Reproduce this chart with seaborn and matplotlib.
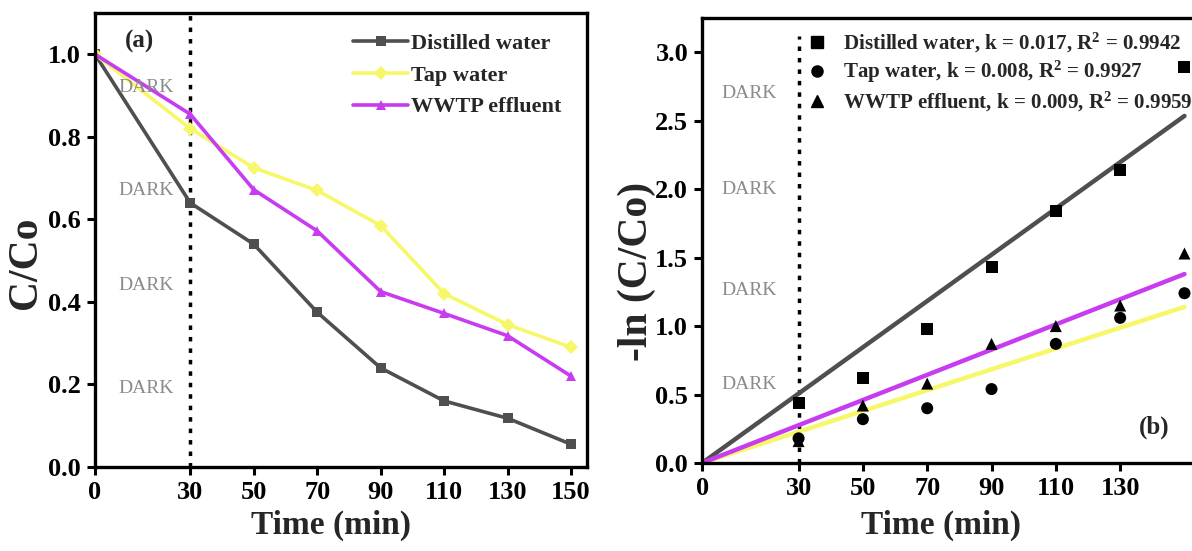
import matplotlib
matplotlib.use("Agg")
import matplotlib.pyplot as plt
from matplotlib.lines import Line2D
import seaborn as sns
import numpy as np
import pandas as pd

# ---------------- data ----------------
time_min = [0, 30, 50, 70, 90, 110, 130, 150]
series_names = ["Distilled water", "Tap water", "WWTP effluent"]
distilled_c = [1.0, 0.64, 0.54, 0.375, 0.24, 0.16, 0.118, 0.055]
tap_c = [1.0, 0.82, 0.725, 0.67, 0.585, 0.42, 0.345, 0.29]
wwtp_c = [1.0, 0.855, 0.672, 0.572, 0.425, 0.372, 0.318, 0.22]

kin_time = [30, 50, 70, 90, 110, 130, 150]
distilled_ln = [0.44, 0.62, 0.98, 1.43, 1.84, 2.14, 2.89]
tap_ln = [0.18, 0.32, 0.40, 0.54, 0.87, 1.06, 1.24]
wwtp_ln = [0.16, 0.42, 0.58, 0.87, 1.00, 1.15, 1.53]

fit_slopes = [0.0169, 0.0076, 0.0092]
fit_range = [0, 150]
k_labels = ["0.017", "0.008", "0.009"]
r2_labels = ["0.9942", "0.9927", "0.9959"]

left_xticks = [0, 30, 50, 70, 90, 110, 130, 150]
right_xticks = [0, 30, 50, 70, 90, 110, 130]
left_yticks = [0.0, 0.2, 0.4, 0.6, 0.8, 1.0]
right_yticks = [0.0, 0.5, 1.0, 1.5, 2.0, 2.5, 3.0]
dark_time = 30
dark_y_left = [0.92, 0.67, 0.44, 0.19]
dark_y_right = [2.70, 2.00, 1.26, 0.57]

# ---------------- style ----------------
sns.set_style("ticks")
plt.rcParams["font.family"] = ["Liberation Serif", "DejaVu Serif"]
plt.rcParams["font.weight"] = "bold"
plt.rcParams["mathtext.fontset"] = "custom"
plt.rcParams["mathtext.rm"] = "Liberation Serif:bold"
plt.rcParams["mathtext.bf"] = "Liberation Serif:bold"
plt.rcParams["mathtext.it"] = "Liberation Serif:bold"

colors = ["#4f4f4f", "#f7f76a", "#c83cf0"]
line_markers = ["s", "D", "^"]
scatter_markers = ["s", "o", "^"]

fig = plt.figure(figsize=(11.92, 5.51), dpi=100)
ax1 = fig.add_axes([0.0797, 0.1525, 0.4127, 0.8239])
ax2 = fig.add_axes([0.589, 0.1597, 0.4144, 0.8076])

# ---------------- panel (a) ----------------
df_a = pd.DataFrame({
    "Time": time_min * 3,
    "C": distilled_c + tap_c + wwtp_c,
    "Sample": [n for n in series_names for _ in time_min],
})
sns.lineplot(data=df_a, x="Time", y="C", hue="Sample", style="Sample",
             palette=dict(zip(series_names, colors)),
             markers=dict(zip(series_names, line_markers)),
             dashes=False, linewidth=2.6, markersize=7, markeredgewidth=0,
             ax=ax1, legend=True)
ax1.axvline(dark_time, color="black", linestyle=(0, (1.3, 2.0)), linewidth=2.5, zorder=1)
for y in dark_y_left:
    ax1.text(16, y, "DARK", color="#8a8a8a", fontsize=14, fontweight="normal",
             ha="center", va="center")
ax1.text(14, 1.03, "(a)", fontsize=18, fontweight="bold", ha="center", va="center")
ax1.set_xlim(0, 155)
ax1.set_ylim(0, 1.1)
ax1.set_xticks(left_xticks)
ax1.set_yticks(left_yticks)
ax1.set_yticklabels([f"{v:.1f}" for v in left_yticks])
ax1.set_xlabel("Time (min)", fontsize=24, fontweight="bold")
ax1.set_ylabel("C/Co", fontsize=30, fontweight="bold")
ax1.legend(loc="upper left", bbox_to_anchor=(0.524, 0.955), frameon=False,
           fontsize=16, handlelength=2.5, handletextpad=0.12,
           labelspacing=0.5, borderaxespad=0.0, borderpad=0.0)

# ---------------- panel (b) ----------------
df_b = pd.DataFrame({
    "Time": kin_time * 3,
    "L": distilled_ln + tap_ln + wwtp_ln,
    "Sample": [n for n in series_names for _ in kin_time],
})
sns.scatterplot(data=df_b, x="Time", y="L", style="Sample",
                markers=dict(zip(series_names, scatter_markers)),
                color="black", s=75, linewidth=0, ax=ax2, legend=False, zorder=3)
xs = np.array(fit_range, dtype=float)
for slope, c in zip(fit_slopes, colors):
    sns.lineplot(x=xs, y=slope * xs, color=c, linewidth=3.2, ax=ax2, zorder=2)
ax2.plot([dark_time, dark_time], [0, 3.12], color="black",
         linestyle=(0, (1.3, 2.0)), linewidth=2.5, zorder=1)
for y in dark_y_right:
    ax2.text(14.5, y, "DARK", color="#8a8a8a", fontsize=14, fontweight="normal",
             ha="center", va="center")
ax2.text(140.5, 0.26, "(b)", fontsize=18, fontweight="bold", ha="center", va="center")

handles = [Line2D([], [], linestyle="none", marker=m, color="black", markersize=8)
           for m in scatter_markers]
labels = [f"{n}, k = {k}, R$^{{2}}$ = {r}" for n, k, r in zip(series_names, k_labels, r2_labels)]
ax2.legend(handles, labels, loc="upper left", bbox_to_anchor=(0.185, 1.0),
           frameon=False, fontsize=15.1, handlelength=1.0, handletextpad=0.75,
           labelspacing=0.22, borderaxespad=0.2)
ax2.set_xlim(0, 153.6)
ax2.set_ylim(0, 3.25)
ax2.set_xticks(right_xticks)
ax2.set_yticks(right_yticks)
ax2.set_yticklabels([f"{v:.1f}" for v in right_yticks])
ax2.set_xlabel("Time (min)", fontsize=24, fontweight="bold")
ax2.set_ylabel("-ln (C/Co)", fontsize=30, fontweight="bold")

for ax in (ax1, ax2):
    for sp in ax.spines.values():
        sp.set_visible(True)
        sp.set_linewidth(2.4)
        sp.set_color("black")
    ax.tick_params(axis="both", direction="out", length=6, width=2.2,
                   labelsize=19, pad=4, colors="black")
    for lbl in ax.get_xticklabels() + ax.get_yticklabels():
        lbl.set_fontweight("bold")

ax1.yaxis.set_label_coords(-0.102, 0.45)
ax2.yaxis.set_label_coords(-0.093, 0.43)
ax1.xaxis.set_label_coords(0.48, -0.095)
ax2.xaxis.set_label_coords(0.483, -0.105)

fig.savefig("out.png", dpi=100)
